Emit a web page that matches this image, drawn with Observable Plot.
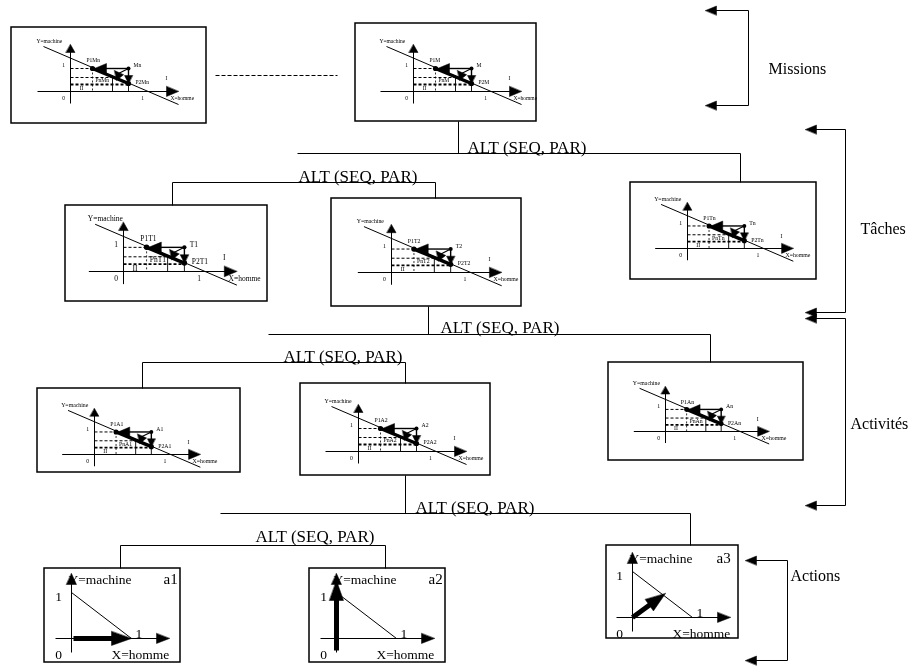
<!DOCTYPE html>
<html><head><meta charset="utf-8">
<script src="https://cdn.jsdelivr.net/npm/d3@7"></script>
<script src="https://cdn.jsdelivr.net/npm/@observablehq/plot@0.6"></script>
<style>body{margin:0;background:#fff}#chart{width:917px;height:666px}#chart svg{filter:grayscale(1)}#chart svg text{font-family:"Liberation Serif","Times New Roman",serif}</style>
</head><body><div id="chart"></div>
<script>
// ---------- data ----------
const levelLabels = ["Missions", "Tâches", "Activités", "Actions"];
const altLabel = "ALT (SEQ, PAR)";

// boxes of the diagram
const boxNames = ["M1","Mn","T1","T2","Tn","A1","A2","An","a1","a2","a3"];
const boxX1 = [11, 355, 65, 331, 630, 37, 300, 608, 44, 309, 606];
const boxY1 = [27, 23, 205, 198, 182, 388, 383, 362, 568, 568, 545];
const boxX2 = [206, 536, 267, 521, 816, 240, 490, 803, 180, 445, 738];
const boxY2 = [123, 121, 301, 306, 279, 472, 475, 460, 662, 662, 638];

// miniature plane charts (missions, tasks, activities)
const miniSuffix = ["Mn","M","T1","T2","Tn","A1","A2","An"];
const miniOX = [70, 413, 123, 391, 687, 94, 358, 665];
const miniOY = [91, 91, 271, 272, 248, 454, 451, 431];
const miniScale = [1, 1, 1.05, 1.02, 0.98, 0.98, 1, 0.96];
const miniFont = [5.5, 5.5, 7.5, 5.8, 5.8, 5.8, 5.8, 5.8];

// action charts
const actionNames = ["a1","a2","a3"];
const actionOX = [71, 336, 632];
const actionOY = [638, 638, 617];
const actionFromX = [2, 0, 0];
const actionFromY = [0, 12, 0];
const actionToX = [60, 0, 33];
const actionToY = [0, -58, -24];
const actionTagDX = [92, 92, 84];

// tree connectors
const treeX1 = [458, 297, 740, 297, 172, 435,  428, 268, 710, 268, 142, 405,  405, 220, 690, 220, 120, 385];
const treeY1 = [121, 153, 153, 182, 182, 182,  306, 334, 334, 362, 362, 362,  475, 513, 513, 545, 545, 545];
const treeX2 = [458, 740, 740, 297, 435, 435,  428, 710, 710, 268, 405, 405,  405, 690, 690, 220, 385, 385];
const treeY2 = [153, 153, 182, 182, 182, 198,  334, 334, 362, 362, 362, 383,  513, 513, 545, 545, 545, 568];
const treeDropX = [172, 142, 120];
const treeDropY1 = [182, 362, 545];
const treeDropY2 = [205, 388, 568];
const altX = [467, 298, 440, 283, 415, 255];
const altY = [147, 176, 327, 356, 507, 536];

// level brackets
const bracketX = [748, 845, 845, 787];
const bracketTop = [10, 129, 318, 560];
const bracketBottom = [105, 312, 505, 660];
const bracketTip = [705, 805, 805, 745];
const levelLabelX = [768, 860, 850, 790];
const levelLabelY = [68, 228, 423, 575];

// dashed ellipsis between the two mission boxes
const ellipsis = [215, 75, 337, 75];

// ---------- build marks data ----------
const segs = [];
const heads = [];
const dots = [];
const texts = [];
let hid = 0;
function seg(x1, y1, x2, y2, w = 1, dash = null) { segs.push({x1, y1, x2, y2, w, dash}); }
function head(tx, ty, fx, fy, len, hw) {
  const dx = tx - fx, dy = ty - fy, L = Math.hypot(dx, dy);
  const ux = dx / L, uy = dy / L, bx = tx - ux * len, by = ty - uy * len;
  const id = hid++;
  heads.push({id, x: tx, y: ty});
  heads.push({id, x: bx - uy * hw, y: by + ux * hw});
  heads.push({id, x: bx + uy * hw, y: by - ux * hw});
}
function txt(t, x, y, size, anchor = "middle") { texts.push({t, x, y, size, anchor}); }

// boxes
const boxes = boxNames.map((n, i) => ({n, x1: boxX1[i], y1: boxY1[i], x2: boxX2[i], y2: boxY2[i]}));

// mini charts
miniSuffix.forEach((s, i) => {
  const ox = miniOX[i], oy = miniOY[i], k = miniScale[i], f = miniFont[i];
  const P = (x, y) => [ox + x * k, oy + y * k];
  const S = (a, b, c, d, w, dash) => { const p = P(a, b), q = P(c, d); seg(p[0], p[1], q[0], q[1], w, dash); };
  const Hd = (a, b, c, d, len, hw) => { const p = P(a, b), q = P(c, d); head(p[0], p[1], q[0], q[1], len * k, hw * k); };
  S(0, 12, 0, -40, 1);
  S(-33, 0, 98, 0, 1);
  S(-27, -45, 108, 13, 1);
  S(42, -14, 42, 0, 0.9);
  S(58, -7, 58, 0, 0.9);
  S(58, -23, 30, -23, 1.4);
  S(58, -23, 58, -13, 1.4);
  S(22, -23, 58, -8, 3.5);
  S(58, -23, 48, -18, 1.1);
  S(0, -23, 22, -23, 1, "3,2");
  S(0, -14, 42, -14, 1, "3,2");
  S(0, -7, 58, -7, 1.8, "3,2");
  S(22, -23, 22, 0, 0.8, "2,2");
  Hd(0, -47, 0, 0, 8, 4.5);
  Hd(108, 0, 0, 0, 12, 5);
  Hd(24, -23, 58, -23, 12, 5);
  Hd(58, -8, 58, -23, 8, 4);
  Hd(44, -21, 52, -11, 9, 4.5);
  [[22, -23, 2.6], [58, -23, 2], [58, -8, 2.6]].forEach(([a, b, r]) => { const p = P(a, b); dots.push({x: p[0], y: p[1], r: r * k}); });
  const L = (t, a, b, anchor) => { const p = P(a, b); txt(t, p[0], p[1], f, anchor); };
  L("Y=machine", -34, -50, "start");
  L("1", -7, -26, "middle");
  L("0", -7, 7, "middle");
  L("1", 72, 7, "middle");
  L("I", 96, -13, "middle");
  L("X=homme", 100, 7, "start");
  L("II", 11, -3, "middle");
  L("P1" + s, 16, -31, "start");
  L(s, 63, -26, "start");
  L("P2" + s, 65, -9, "start");
  L("Pn" + s, 25, -11, "start");
});

// action charts
actionNames.forEach((n, i) => {
  const ox = actionOX[i], oy = actionOY[i];
  seg(ox, oy + 14, ox, oy - 56, 1);
  seg(ox - 16, oy, ox + 86, oy, 1);
  seg(ox, oy - 46, ox + 60, oy, 1);
  head(ox, oy - 65, ox, oy, 11, 5);
  head(ox + 98, oy, ox, oy, 13, 5);
  // thick action arrow
  const fx = ox + actionFromX[i], fy = oy + actionFromY[i], tx = ox + actionToX[i], ty = oy + actionToY[i];
  const L = Math.hypot(tx - fx, ty - fy), hl = 20;
  seg(fx, fy, tx - (tx - fx) / L * (hl - 2), ty - (ty - fy) / L * (hl - 2), 5);
  head(tx, ty, fx, fy, hl, 7);
  txt("Y=machine", ox - 3, oy - 59, 13.5, "start");
  txt(n, ox + actionTagDX[i], oy - 59, 15, "start");
  txt("1", ox - 13, oy - 42, 13.5);
  txt("0", ox - 13, oy + 16, 13.5);
  txt("1", ox + 64, oy - 5, 13.5, "start");
  txt("X=homme", ox + 40, oy + 16, 13.5, "start");
});

// tree
treeX1.forEach((x, i) => seg(x, treeY1[i], treeX2[i], treeY2[i], 1));
treeDropX.forEach((x, i) => seg(x, treeDropY1[i], x, treeDropY2[i], 1));
altX.forEach((x, i) => txt(altLabel, x, altY[i], 17, "start"));

// brackets
bracketX.forEach((x, i) => {
  seg(x, bracketTop[i], x, bracketBottom[i], 1);
  seg(x, bracketTop[i], bracketTip[i] + 8, bracketTop[i], 1);
  seg(x, bracketBottom[i], bracketTip[i] + 8, bracketBottom[i], 1);
  head(bracketTip[i], bracketTop[i], x, bracketTop[i], 11, 4.5);
  head(bracketTip[i], bracketBottom[i], x, bracketBottom[i], 11, 4.5);
  txt(levelLabels[i], levelLabelX[i], levelLabelY[i], 16, "start");
});

// ellipsis
seg(ellipsis[0], ellipsis[1], ellipsis[2], ellipsis[3], 1, "4,2");

// ---------- plot ----------
const font = "Liberation Serif";
const dashes = [...new Set(segs.filter(d => d.dash).map(d => d.dash))];
const chart = Plot.plot({
  width: 917, height: 666, margin: 0,
  x: {domain: [0, 917], range: [0, 917], axis: null},
  y: {domain: [0, 666], range: [0, 666], axis: null},
  r: {type: "identity"},
  style: {background: "#fff"},
  marks: [
    Plot.rect(boxes, {x1: "x1", y1: "y1", x2: "x2", y2: "y2", fill: "white", stroke: "black", strokeWidth: 1.5}),
    Plot.link(segs.filter(d => !d.dash), {x1: "x1", y1: "y1", x2: "x2", y2: "y2", stroke: "black", strokeWidth: "w"}),
    ...dashes.map(ds => Plot.link(segs.filter(d => d.dash === ds), {x1: "x1", y1: "y1", x2: "x2", y2: "y2", stroke: "black", strokeWidth: "w", strokeDasharray: ds})),
    Plot.line(heads, {x: "x", y: "y", z: "id", curve: "linear-closed", fill: "black", stroke: "black", strokeWidth: 0.5}),
    Plot.dot(dots, {x: "x", y: "y", r: "r", fill: "black", stroke: "none"}),
    Plot.text(texts.filter(d => d.anchor === "start"), {x: "x", y: "y", text: "t", fontSize: "size", textAnchor: "start", fill: "black", fontFamily: font}),
    Plot.text(texts.filter(d => d.anchor === "middle"), {x: "x", y: "y", text: "t", fontSize: "size", textAnchor: "middle", fill: "black", fontFamily: font})
  ]
});
document.getElementById("chart").appendChild(chart);
</script>
</body></html>
